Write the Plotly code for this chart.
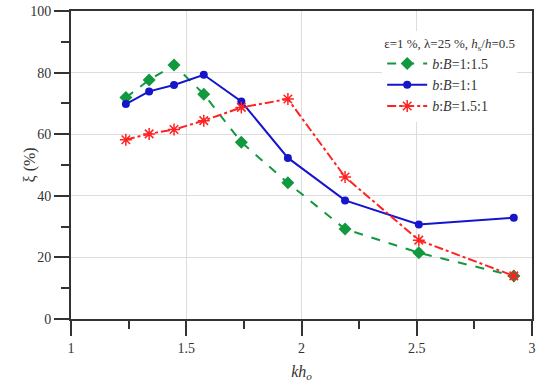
import plotly.graph_objects as go

kh = [1.238, 1.339, 1.447, 1.576, 1.739, 1.941, 2.189, 2.509, 2.921]
xi_green = [71.9, 77.6, 82.5, 73.0, 57.4, 44.2, 29.2, 21.5, 14.0]
xi_blue = [69.8, 73.9, 76.0, 79.3, 70.6, 52.3, 38.5, 30.7, 32.9]
xi_red = [58.2, 60.1, 61.5, 64.4, 68.7, 71.4, 46.1, 25.6, 14.0]
names = ["<i>b</i>:<i>B</i>=1:1.5", "<i>b</i>:<i>B</i>=1:1", "<i>b</i>:<i>B</i>=1.5:1"]
legend_title = "ε=1 %, λ=25 %, <i>h</i><sub>s</sub>/<i>h</i>=0.5"
y_title = "ξ (%)"
x_title = "<i>kh</i><sub><i>o</i></sub>"

FONT = "Liberation Serif"
AX = "#333333"

fig = go.Figure()
fig.add_trace(go.Scatter(x=kh, y=xi_green, name=names[0], mode="lines+markers",
                         line=dict(color="#119940", width=2, dash="dash"),
                         marker=dict(symbol="diamond", size=10, color="#119940")))
fig.add_trace(go.Scatter(x=kh, y=xi_blue, name=names[1], mode="lines+markers",
                         line=dict(color="#1515cc", width=2),
                         marker=dict(symbol="circle", size=8, color="#1515cc")))
fig.add_trace(go.Scatter(x=kh, y=xi_red, name=names[2], mode="lines+markers",
                         line=dict(color="#ff2222", width=2, dash="dashdot"),
                         marker=dict(symbol="asterisk-open", size=10, color="#ff2222",
                                     line=dict(color="#ff2222", width=1.5))))

axis_common = dict(showline=True, linecolor=AX, linewidth=2, mirror=True,
                   ticks="outside", ticklen=15, tickwidth=2, tickcolor=AX,
                   showgrid=True, gridcolor="#dddddd", gridwidth=1, zeroline=False,
                   automargin=False, ticklabeloverflow="allow",
                   tickfont=dict(family=FONT, size=14, color="#333"))

fig.update_xaxes(range=[1, 3], tick0=1, dtick=0.5,
                 minor=dict(dtick=0.25, ticks="outside", ticklen=8, tickwidth=2, tickcolor=AX, showgrid=False),
                 title=dict(text=x_title, font=dict(family=FONT, size=16, color="#333"), standoff=11),
                 **axis_common)
fig.update_yaxes(range=[0, 100], tick0=0, dtick=20,
                 minor=dict(dtick=10, ticks="outside", ticklen=8, tickwidth=2, tickcolor=AX, showgrid=False),
                 **axis_common)

fig.add_annotation(text=y_title, xref="paper", yref="paper", x=-0.088, y=0.5,
                   xanchor="center", yanchor="middle", textangle=-90, showarrow=False,
                   font=dict(family=FONT, size=16, color="#333"))

fig.update_layout(
    width=550, height=387,
    margin=dict(l=71, r=18, t=11, b=68),
    paper_bgcolor="white", plot_bgcolor="white",
    font=dict(family=FONT, size=14, color="#333"),
    legend=dict(x=0.675, y=0.935, xanchor="left", yanchor="top",
                bgcolor="white", borderwidth=0,
                title=dict(text=legend_title, font=dict(family=FONT, size=13, color="#333")),
                font=dict(family=FONT, size=14, color="#333"),
                tracegroupgap=0, itemwidth=40),
    showlegend=True,
)

fig.write_html("out.html", config={"displayModeBar": False},
               post_script="document.body.style.margin='0';document.body.style.overflow='hidden';")
